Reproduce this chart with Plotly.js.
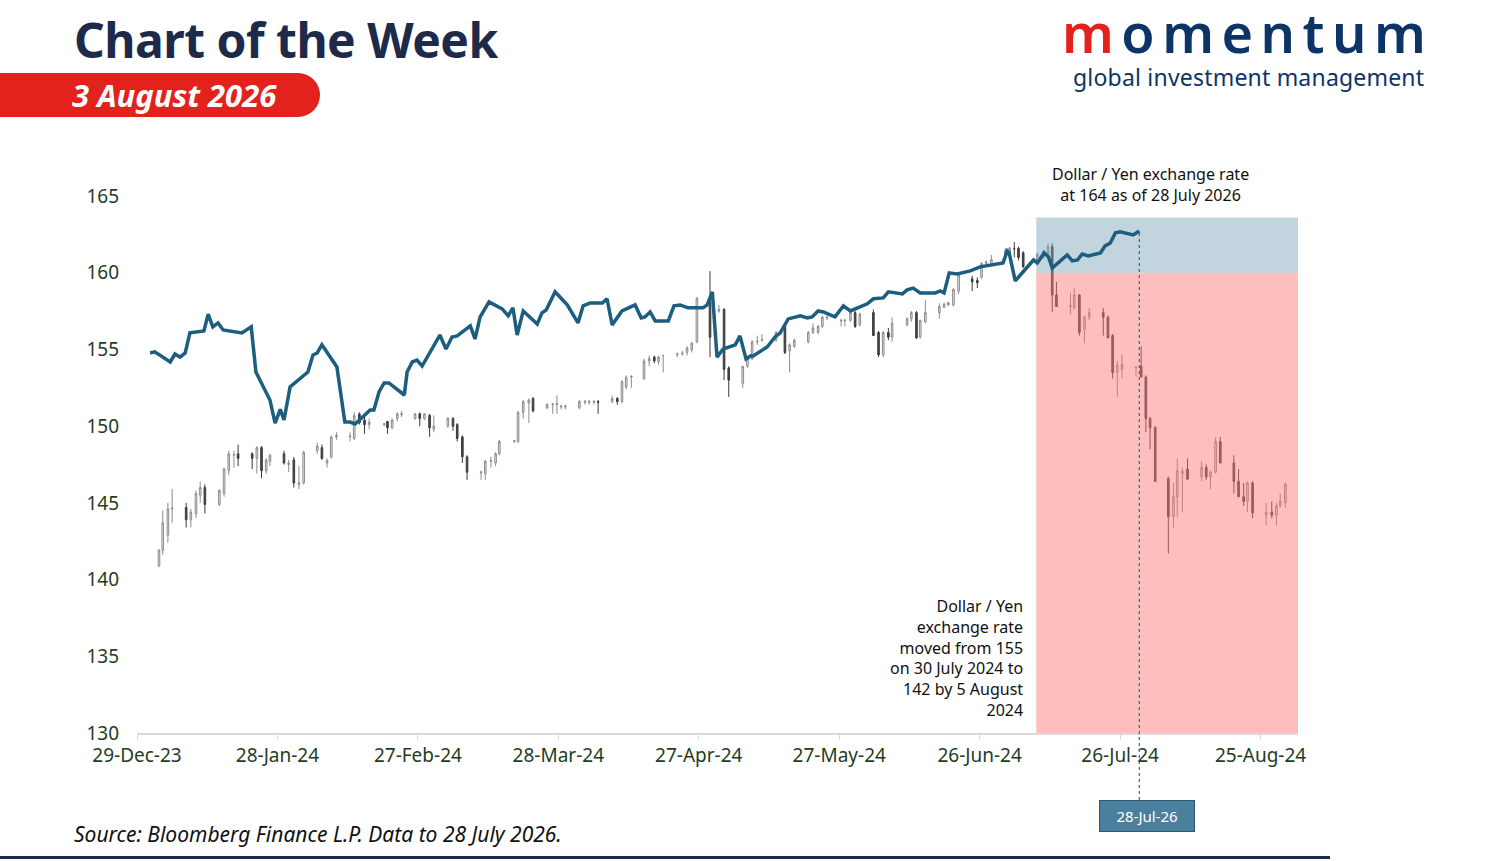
<!DOCTYPE html>
<html><head><meta charset="utf-8">
<script src="https://cdn.plot.ly/plotly-3.0.1.min.js"></script>
<style>
body{margin:0;width:1500px;height:861px;overflow:hidden;background:#fff;font-family:"Noto Sans",sans-serif;position:relative}
#chart{position:absolute;left:0;top:0;width:1500px;height:861px}
.t{position:absolute;white-space:nowrap}
</style></head><body>
<div id="chart"></div>
<div class="t" style="left:74px;top:8px;font-size:48px;font-weight:700;color:#1e2a4a;letter-spacing:-0.5px;line-height:64px">Chart of the Week</div>
<div class="t" style="left:0;top:73px;width:320px;height:44px;background:#e3221e;border-radius:0 22px 22px 0"></div>
<div class="t" style="left:72px;top:73px;font-size:31px;font-weight:700;font-style:italic;color:#fff;line-height:44px">3 August 2026</div>
<div class="t" style="left:1062px;top:2px;font-size:54px;font-weight:600;color:#0d3466;letter-spacing:7.5px;line-height:60px"><span style="color:#e3221e">m</span>omentum</div>
<div class="t" style="left:1073px;top:64px;font-size:23px;color:#0d3466;line-height:26px;letter-spacing:0.2px">global investment management</div>
<div class="t" style="left:74px;top:820px;font-size:21px;font-style:italic;color:#111">Source: Bloomberg Finance L.P. Data to 28 July 2026.</div>
<div class="t" style="left:0;top:856px;width:1330px;height:3px;background:#1e2a4a"></div>
<script>
// x = days since 29-Dec-23
const tickVals=[0,30,60,90,120,150,180,210,240];
const tickText=['29-Dec-23','28-Jan-24','27-Feb-24','28-Mar-24','27-Apr-24','27-May-24','26-Jun-24','26-Jul-24','25-Aug-24'];
const candle=[
[4.7,140.9,142.0,140.8,141.9],[5.5,141.9,144.5,141.6,143.7],[6.6,142.9,145.0,142.4,144.6],[7.5,144.6,145.9,143.7,144.65],
[10.5,144.7,145.0,143.4,143.9],[11.5,143.9,144.6,143.4,144.4],[12.6,144.3,145.8,144.0,145.6],[13.5,145.5,146.4,145.0,146.0],
[14.5,146.0,146.2,144.3,144.9],[17.6,144.9,145.9,144.8,145.8],[18.6,145.6,147.3,145.4,147.2],[19.6,147.1,148.4,146.8,148.2],
[20.7,148.1,148.4,147.3,148.15],[21.6,148.2,148.8,147.4,147.9],[24.6,148.2,148.3,147.2,147.9],[25.6,147.9,148.7,146.9,148.6],
[26.6,148.6,148.7,146.6,147.1],[27.6,147.1,147.9,146.9,147.8],[28.4,147.7,148.2,147.4,148.1],[31.4,148.2,148.4,147.5,147.6],
[32.4,147.5,147.8,147.0,147.6],[33.5,147.8,148.0,146.0,146.3],[34.6,146.2,147.4,145.9,146.3],[35.6,146.3,148.4,146.2,148.3],
[38.5,148.4,148.9,148.2,148.7],[39.5,148.6,148.8,147.8,147.9],[40.6,147.6,147.9,147.3,147.75],[41.5,148.0,149.4,147.9,149.3],
[42.6,149.3,149.6,149.1,149.4],[45.5,149.3,149.6,149.0,149.35],[46.4,149.2,150.9,149.1,150.7],[47.5,150.8,150.9,150.1,150.2],
[48.6,150.4,150.6,149.5,150.1],[49.6,150.1,150.5,149.8,150.25],[52.8,150.1,150.2,150.0,150.15],[53.5,150.3,150.35,149.5,149.9],
[54.5,149.9,150.5,149.8,150.4],[55.6,150.5,150.9,150.3,150.8],[56.5,150.75,151.0,150.6,150.8],[59.4,150.5,150.85,150.4,150.8],
[60.4,150.8,150.9,150.0,150.5],[61.4,150.5,150.85,150.4,150.8],[62.5,150.7,150.8,149.3,149.9],[63.4,149.8,150.7,149.6,150.0],
[66.4,150.0,150.6,149.9,150.5],[67.5,150.5,150.6,149.7,150.0],[68.4,150.1,150.2,149.0,149.2],[69.5,149.3,149.4,147.6,148.0],
[70.5,148.0,148.1,146.5,147.0],[73.5,146.95,147.1,146.5,147.0],[74.4,146.9,147.8,146.5,147.7],[75.6,147.7,148.0,147.3,147.75],
[76.6,147.6,148.3,147.4,148.2],[77.4,148.2,149.1,148.1,149.0],[80.6,149.0,149.1,148.9,149.05],[81.4,149.0,151.0,148.9,150.9],
[82.5,150.9,151.7,150.5,151.6],[83.7,151.5,151.8,150.2,151.7],[84.6,151.8,151.9,150.9,151.0],[87.6,151.2,151.5,151.1,151.4],
[88.8,151.4,151.5,150.8,151.45],[89.7,151.4,152.0,150.8,151.45],[90.6,151.25,151.4,151.1,151.3],[91.5,151.25,151.4,151.1,151.3],
[94.5,151.2,151.7,151.1,151.6],[95.7,151.55,151.7,151.4,151.6],[96.6,151.55,151.7,151.4,151.6],[97.6,151.55,151.7,151.4,151.6],
[98.5,151.6,151.7,150.8,151.55],[101.5,151.6,152.0,151.5,151.8],[102.6,151.8,151.9,151.4,151.6],[103.6,151.6,153.0,151.5,152.9],
[104.5,152.55,153.3,152.4,153.2],[105.6,153.2,153.3,152.5,153.25],[108.3,153.1,154.4,153.0,154.25],[109.4,154.25,154.6,153.9,154.4],
[110.5,154.5,154.6,154.1,154.25],[111.4,154.2,154.6,154.0,154.5],[112.4,154.6,154.65,153.5,154.6],[115.4,154.65,154.8,154.5,154.7],
[116.5,154.7,154.9,154.6,154.75],[117.5,154.8,155.2,154.6,155.1],[118.5,155.0,155.5,154.8,155.4],[119.6,155.5,158.4,155.4,158.35],
[122.4,158.1,160.1,154.5,155.8],[124.3,157.5,157.9,157.4,157.6],[125.4,157.6,157.7,153.0,153.7],[126.4,153.8,153.9,151.9,153.0],
[129.4,152.8,153.9,152.5,153.9],[130.4,153.9,154.5,153.8,154.4],[131.4,154.4,155.6,154.3,155.5],[132.5,155.5,155.9,155.3,155.55],
[133.5,155.6,156.0,155.5,155.65],[136.5,155.6,156.2,155.5,156.1],[138.4,156.5,156.6,154.7,154.8],[139.4,154.9,155.4,153.5,155.3],
[140.4,155.2,155.7,155.1,155.6],[143.4,155.5,156.2,155.4,156.1],[144.4,156.1,156.7,156.0,156.4],[145.5,156.1,156.6,156.0,156.5],
[146.4,156.5,157.2,156.4,157.1],[147.4,157.05,157.2,156.9,157.1],[150.4,156.85,157.0,156.5,156.9],[151.2,156.85,157.0,156.5,156.9],
[152.4,156.9,157.5,156.8,157.4],[153.4,157.4,157.5,156.4,156.5],[154.4,156.6,157.4,156.5,157.3],[157.3,157.4,157.6,155.9,155.9],
[158.4,156.1,156.2,154.5,154.65],[159.4,154.65,156.2,154.5,156.1],[160.5,156.1,156.4,155.6,155.8],[161.3,155.8,157.1,155.5,156.7],
[164.5,156.6,157.1,156.5,157.0],[165.4,157.0,157.5,156.8,157.4],[166.5,157.4,157.5,155.7,155.75],[167.3,155.8,156.9,155.7,156.9],
[168.4,156.8,158.2,156.7,157.4],[171.4,157.4,158.0,157.0,157.8],[172.4,157.75,158.05,157.7,157.95],[173.3,157.9,158.1,157.85,158.05],
[174.4,157.9,159.0,157.8,158.9],[175.5,158.8,159.9,158.6,159.85],[178.4,159.6,159.8,158.8,159.4],[179.5,159.5,159.7,159.0,159.35],
[180.4,159.7,160.7,159.6,160.6],[181.4,160.6,160.8,160.5,160.7],[182.5,160.6,161.15,160.5,160.85],[185.5,161.1,161.6,161.0,161.45],
[186.4,161.35,161.7,161.3,161.6],[187.4,161.55,162.0,161.0,161.55],[188.3,161.6,161.7,160.8,161.0],[189.3,161.3,161.4,160.3,160.4],
[192.3,160.6,161.3,160.5,161.2],[193.6,161.0,161.5,160.9,161.4],[194.6,161.2,161.9,161.1,161.7],[195.5,161.7,161.9,157.45,158.55],
[196.4,158.55,159.4,157.8,157.8],[199.4,157.8,158.7,157.3,157.85],[200.2,157.7,159.0,157.6,158.55],[201.3,158.55,158.6,155.9,156.1],
[202.4,156.3,157.2,155.4,157.1],[203.4,157.1,157.7,156.9,157.4],[206.4,157.4,157.7,155.9,157.1],[207.4,157.1,157.2,155.75,155.75],
[208.4,155.9,156.0,153.1,153.5],[209.4,153.5,154.25,151.9,154.0],[210.4,153.7,154.7,153.15,154.0],[213.4,153.8,153.9,153.2,153.85],
[214.5,153.9,155.2,153.2,153.2],[215.5,153.2,153.3,149.6,150.5],[216.4,150.5,150.6,148.5,149.9],[217.5,149.9,150.0,146.4,146.4],
[220.3,146.6,146.7,141.7,144.1],[221.4,144.1,146.3,143.4,145.4],[222.2,145.4,147.9,144.1,147.1],[223.3,146.9,147.3,144.4,147.05],
[224.4,147.2,147.9,146.5,146.55],[227.4,146.7,147.7,146.4,147.3],[228.4,147.3,147.5,146.5,146.7],[229.3,146.7,147.1,145.9,147.0],
[230.4,147.0,149.3,146.9,149.0],[231.4,149.0,149.3,147.6,147.6],[234.3,147.6,148.1,145.6,146.4],[235.3,146.4,147.2,145.4,145.4],
[236.4,145.4,146.3,144.8,145.1],[237.2,145.1,146.4,144.4,146.3],[238.3,146.3,146.4,144.0,144.35],[241.2,144.2,145.0,143.5,144.4],
[242.4,144.4,145.1,144.0,144.2],[243.4,144.2,145.0,143.5,144.8],[244.2,144.8,145.6,144.7,145.1],[245.3,145.0,146.3,144.7,146.2]
];
const cx=candle.map(r=>r[0]), co=candle.map(r=>r[1]), ch=candle.map(r=>r[2]), cl=candle.map(r=>r[3]), cc=candle.map(r=>r[4]);
// 2026 Dollar/Yen line, on the same day-of-year positions
const lineX=[2.8,3.8,7.1,8.1,9.2,10.3,11.3,14.3,15.2,16.2,17.3,18.4,22.4,24.4,25.4,28.4,29.5,30.6,31.4,32.7,36.5,37.6,38.5,39.5,42.7,44.4,45.5,46.6,49.8,50.6,51.7,52.8,53.8,57.1,57.7,58.8,59.8,60.9,64.7,66.0,67.3,68.4,71.2,72.2,73.3,75.2,78.0,79.3,80.3,81.2,82.5,85.5,86.5,87.4,89.3,91.9,94.2,95.3,96.8,99.4,100.4,101.5,103.6,106.4,107.7,108.5,109.6,110.7,113.5,114.7,116.0,117.7,120.9,121.8,122.9,123.9,125.2,127.8,128.8,130.1,131.0,131.6,134.6,136.3,137.4,139.1,141.7,143.2,144.2,145.5,146.6,149.1,150.9,152.4,156.0,157.3,159.4,160.5,163.5,164.5,165.8,167.3,170.5,171.6,172.4,173.5,175.2,178.0,180.1,185.0,185.9,186.3,187.6,190.8,191.5,192.3,193.8,194.7,195.5,198.7,199.8,200.9,201.9,203.2,205.8,206.8,207.9,209.0,210.0,212.8,214.1];
const lineY=[154.77,154.84,154.18,154.7,154.5,154.77,156.08,156.2,157.3,156.47,156.73,156.27,156.08,156.47,153.53,151.7,150.2,151.1,150.4,152.55,153.53,154.64,154.77,155.3,153.86,150.27,150.27,150.14,151.05,151.05,152.23,152.82,152.82,152.03,153.53,154.18,154.3,153.92,155.94,155.03,155.81,155.88,156.53,155.68,157.12,158.1,157.64,157.19,157.71,155.94,157.51,156.66,157.38,157.57,158.75,157.9,156.73,157.84,158.03,158.03,158.3,156.6,157.51,157.9,157.05,157.12,157.44,156.86,156.86,157.84,157.9,157.71,157.71,157.9,158.75,154.5,155.03,155.3,155.88,154.38,154.57,154.57,155.16,155.81,156.08,156.99,157.19,157.05,157.12,157.51,157.44,157.12,157.84,157.51,157.97,158.3,158.36,158.75,158.62,158.88,159.0,158.68,158.68,158.81,158.68,159.99,159.92,160.12,160.38,160.64,161.42,161.29,159.47,160.64,160.83,160.64,161.29,161.03,160.31,161.16,160.77,160.83,161.22,161.09,161.29,161.75,161.94,162.6,162.66,162.46,162.72];
const P=(px)=> (px-137)/1161, Q=(py)=>(733-py)/537;
const F='"Noto Sans", sans-serif';
const traces=[
 {type:'candlestick',x:cx,open:co,high:ch,low:cl,close:cc,hoverinfo:'skip',whiskerwidth:0,
  increasing:{line:{color:'#8c8c8c',width:1},fillcolor:'#e6e6e6'},
  decreasing:{line:{color:'#3a3a3a',width:1},fillcolor:'#4a4a4a'},showlegend:false},
 {type:'scatter',x:[192.1,248,248,192.1],y:[130,130,160,160],fill:'toself',mode:'none',fillcolor:'rgba(255,120,120,0.48)',hoverinfo:'skip',showlegend:false},
 {type:'scatter',x:[192.1,248,248,192.1],y:[160,160,163.6,163.6],fill:'toself',mode:'none',fillcolor:'rgba(120,160,180,0.45)',hoverinfo:'skip',showlegend:false},
 {type:'scatter',mode:'lines',x:lineX,y:lineY,line:{color:'#1b5e80',width:3.5},hoverinfo:'skip',showlegend:false}
];
const layout={
 width:1500,height:861,margin:{l:137,r:202,t:196,b:128},paper_bgcolor:'rgba(0,0,0,0)',plot_bgcolor:'rgba(0,0,0,0)',
 font:{family:F,size:19,color:'#1f3d1f'},showlegend:false,
 xaxis:{type:'linear',range:[0,248],tickvals:tickVals,ticktext:tickText,showgrid:false,zeroline:false,
   showline:true,linecolor:'#d9d9d9',linewidth:1.5,ticks:'outside',ticklen:5,tickcolor:'#d9d9d9',
   rangeslider:{visible:false},tickfont:{size:19,color:'#1f3d1f'},fixedrange:true},
 yaxis:{range:[130,165],tickvals:[130,135,140,145,150,155,160,165],showgrid:false,zeroline:false,showline:false,
   ticks:'',ticklabelstandoff:17,tickfont:{size:19,color:'#1f3d1f'},fixedrange:true},
 shapes:[
  {type:'line',xref:'x',yref:'paper',x0:214.1,x1:214.1,y0:Q(800),y1:Q(231),line:{color:'#2a6f96',width:1.2,dash:'dot'}}
 ],
 annotations:[
  {xref:'paper',yref:'paper',x:P(1150),y:Q(185),text:'Dollar / Yen exchange rate<br>at 164 as of 28 July 2026',showarrow:false,
   font:{size:16,color:'#111'},align:'center',xanchor:'center',yanchor:'middle'},
  {xref:'paper',yref:'paper',x:P(1025),y:Q(658),text:'Dollar / Yen<br>exchange rate<br>moved from 155<br>on 30 July 2024 to<br>142 by 5 August<br>2024',
   showarrow:false,font:{size:16,color:'#111'},align:'right',xanchor:'right',yanchor:'middle'},
  {xref:'paper',yref:'paper',x:P(1147),y:Q(816),text:'28-Jul-26',showarrow:false,bgcolor:'#4a809e',bordercolor:'#2d5a73',borderwidth:1,
   borderpad:5,width:84,font:{size:15,color:'#fff'},xanchor:'center',yanchor:'middle'}
 ]
};
Plotly.newPlot('chart',traces,layout,{staticPlot:true,displayModeBar:false});
</script>
</body></html>
